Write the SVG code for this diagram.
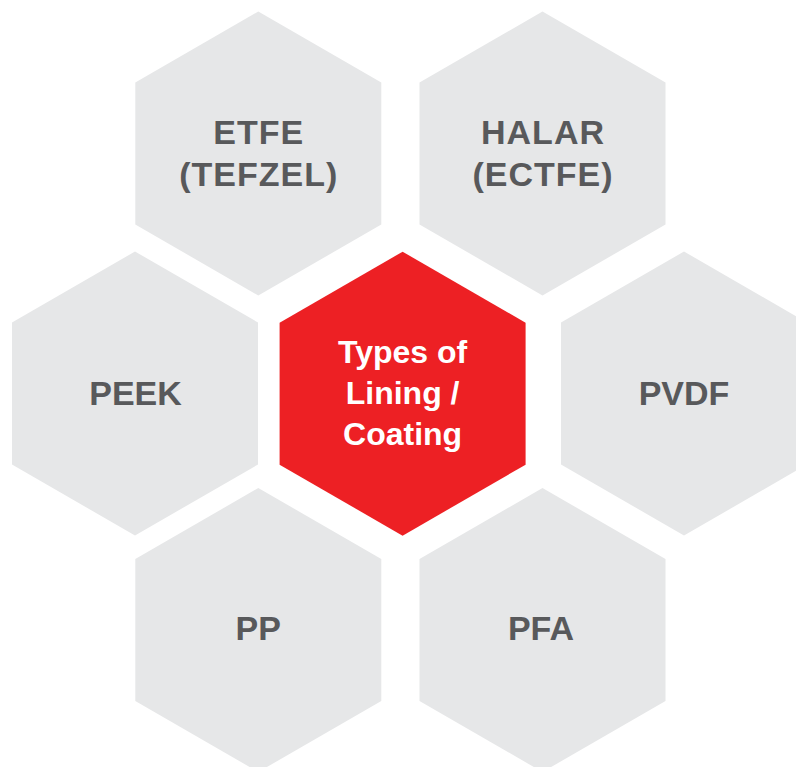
<svg xmlns="http://www.w3.org/2000/svg" xmlns:xlink="http://www.w3.org/1999/xlink" width="796" height="767" viewBox="0 0 796 767">
<defs>
<style>
.hex{fill:#e6e7e8}
.core{fill:#ed2024}
.lbl{font-family:"Liberation Sans",Arial,sans-serif;font-weight:bold;font-size:34px;fill:#58595b;text-anchor:middle}
.clbl{font-family:"Liberation Sans",Arial,sans-serif;font-weight:bold;font-size:32px;fill:#ffffff;text-anchor:middle}
</style>
<polygon id="hx" points="0,-142 123,-71 123,71 0,142 -123,71 -123,-71"/>
</defs>
<rect width="796" height="767" fill="#ffffff"/>
<g id="connectors"></g>
<g id="etfe">
<use xlink:href="#hx" href="#hx" class="hex" transform="translate(258.3,153.5)"/>
<text class="lbl" x="258.8" y="144" letter-spacing="1">ETFE</text>
<text class="lbl" x="258.8" y="186" letter-spacing="1">(TEFZEL)</text>
</g>
<g id="halar">
<use xlink:href="#hx" href="#hx" class="hex" transform="translate(542.5,153.5)"/>
<text class="lbl" x="543" y="144" letter-spacing="1">HALAR</text>
<text class="lbl" x="543" y="186" letter-spacing="1">(ECTFE)</text>
</g>
<g id="peek">
<use xlink:href="#hx" href="#hx" class="hex" transform="translate(135,393.5)"/>
<text class="lbl" x="135.5" y="405">PEEK</text>
</g>
<g id="center">
<use xlink:href="#hx" href="#hx" class="core" transform="translate(402.6,393.7)"/>
<text class="clbl" x="402.6" y="363">Types of</text>
<text class="clbl" x="402.6" y="404">Lining /</text>
<text class="clbl" x="402.6" y="445">Coating</text>
</g>
<g id="pvdf">
<use xlink:href="#hx" href="#hx" class="hex" transform="translate(684,393.5)"/>
<text class="lbl" x="684" y="405">PVDF</text>
</g>
<g id="pp">
<use xlink:href="#hx" href="#hx" class="hex" transform="translate(258.3,630)"/>
<text class="lbl" x="258.3" y="640">PP</text>
</g>
<g id="pfa">
<use xlink:href="#hx" href="#hx" class="hex" transform="translate(542.5,630)"/>
<text class="lbl" x="541" y="640">PFA</text>
</g>
</svg>
